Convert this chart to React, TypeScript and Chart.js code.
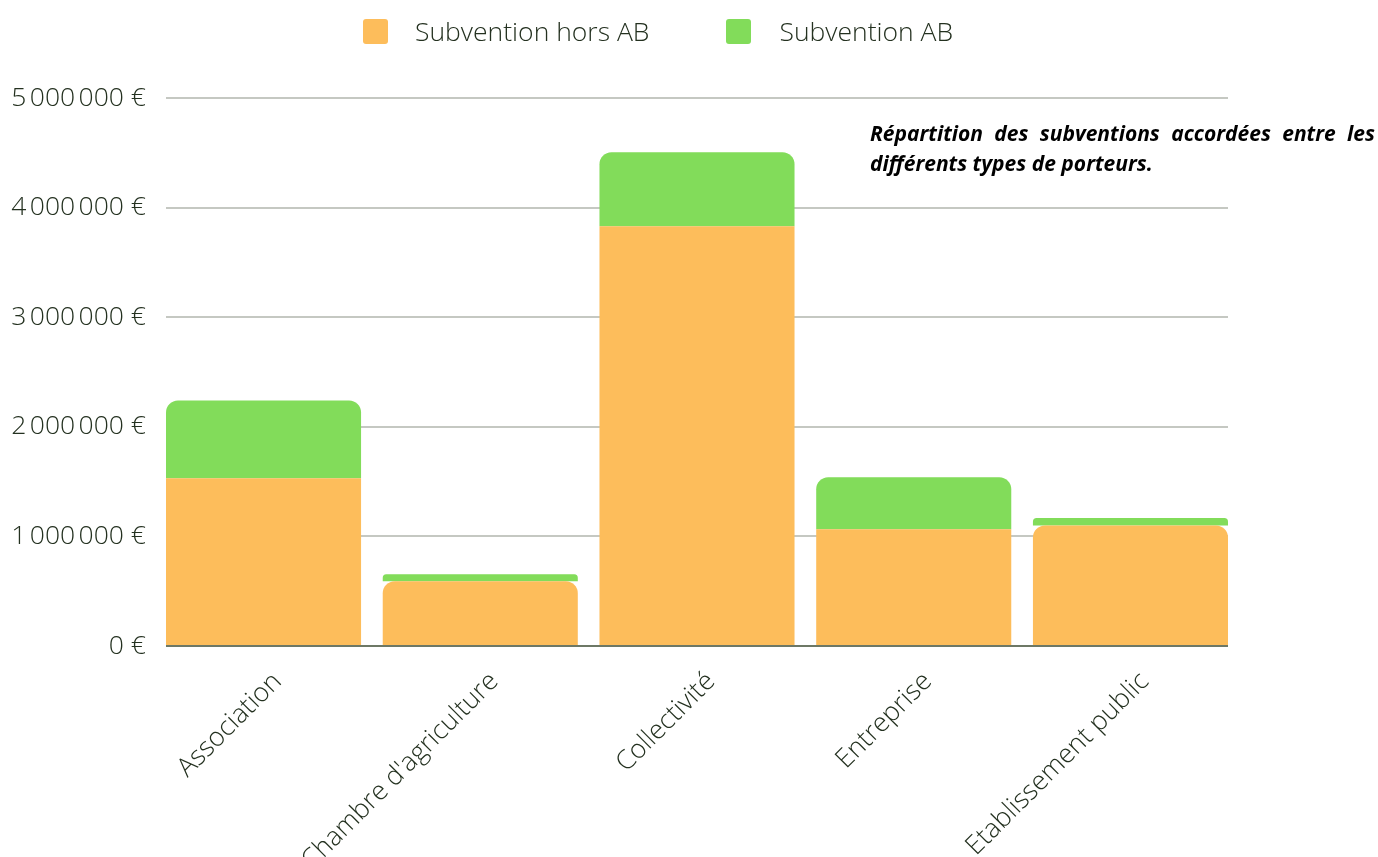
import React, { useEffect, useRef } from "react";
import { Chart, registerables } from "chart.js";

Chart.register(...registerables);

const categories = ["Association", "Chambre d'agriculture", "Collectivité", "Entreprise", "Etablissement public"];
const horsAB = [1530000, 590000, 3830000, 1065000, 1100000];
const ab = [710000, 65000, 675000, 475000, 68000];
const seriesNames = ["Subvention hors AB", "Subvention AB"];
const yTicks = [0, 1000000, 2000000, 3000000, 4000000, 5000000];

const ORANGE = "#fdbd5b";
const GREEN = "#82dc5a";
const TEXT = "#243120";
const FONT = "'Open Sans', sans-serif";

function fmtEuro(v: number): string {
  const s = Math.round(v).toString().replace(/\B(?=(\d{3})+(?!\d))/g, "\u202F");
  return s + "\u00A0€";
}

export default function App() {
  const ref = useRef<HTMLCanvasElement | null>(null);
  useEffect(() => {
    if (!ref.current) return;
    const chart = new Chart(ref.current, {
      type: "bar",
      data: {
        datasets: [
          {
            label: seriesNames[0],
            data: horsAB.map((v, i) => ({ x: i, y: v })),
            backgroundColor: ORANGE,
            borderWidth: 0,
            borderSkipped: "start",
            borderRadius: (ctx: any) => {
              const i = ctx.dataIndex;
              const small = ab[i] !== undefined && ab[i] < 150000;
              return small ? { topLeft: 12, topRight: 12, bottomLeft: 0, bottomRight: 0 } : 0;
            },
            barPercentage: 0.9,
            categoryPercentage: 1,
          } as any,
          {
            label: seriesNames[1],
            data: ab.map((v, i) => ({ x: i, y: v })),
            backgroundColor: GREEN,
            borderWidth: 0,
            borderSkipped: "start",
            borderRadius: { topLeft: 12, topRight: 12, bottomLeft: 0, bottomRight: 0 },
            barPercentage: 0.9,
            categoryPercentage: 1,
          } as any,
        ],
      },
      options: {
        animation: false,
        responsive: true,
        maintainAspectRatio: false,
        layout: { padding: { top: 98, right: 150, left: 0, bottom: 0 } },
        plugins: {
          legend: { display: false },
          tooltip: { enabled: false },
        },
        scales: {
          x: {
            type: "linear",
            stacked: true,
            min: -0.45,
            max: categories.length - 0.55,
            offset: false,
            grid: { display: false },
            border: { display: false },
            afterFit: (s: any) => {
              s.height = 900 - 646;
            },
            afterBuildTicks: (s: any) => {
              s.ticks = categories.map((_, i) => ({ value: i }));
            },
            ticks: {
              autoSkip: false,
              maxRotation: 45,
              minRotation: 45,
              padding: 12,
              labelOffset: 14,
              color: TEXT,
              font: { family: FONT, size: 26.5, weight: "300" as any },
              callback: (v: any) => categories[Math.round(Number(v))] ?? "",
            },
          } as any,
          y: {
            stacked: true,
            min: 0,
            max: 5000000,
            afterFit: (s: any) => {
              s.width = 166;
            },
            afterBuildTicks: (s: any) => {
              s.ticks = yTicks.map((v) => ({ value: v }));
            },
            border: { display: false },
            grid: {
              drawTicks: false,
              lineWidth: 2,
              color: (ctx: any) => (ctx.tick && ctx.tick.value === 0 ? "#6d7866" : "#c5c8c2"),
            },
            ticks: {
              padding: 20,
              color: TEXT,
              font: { family: FONT, size: 26.5, weight: "300" as any },
              callback: (v: any) => fmtEuro(Number(v)),
            },
          } as any,
        },
      },
    });
    return () => chart.destroy();
  }, []);

  return (
    <div style={{ position: "absolute", left: 0, top: 0, width: 1378, height: 857, overflow: "hidden", background: "#fff" }}>
      <div style={{ position: "absolute", left: 0, top: 0, width: 1378, height: 900 }}>
        <canvas ref={ref} />
      </div>
      <div
        style={{
          position: "absolute",
          top: 13,
          left: 363,
          display: "flex",
          alignItems: "center",
          fontFamily: FONT,
          fontWeight: 300,
          fontSize: 26.5,
          color: TEXT,
          whiteSpace: "nowrap",
        }}
      >
        <span style={{ display: "inline-block", width: 25, height: 25, borderRadius: 3, background: ORANGE }} />
        <span style={{ marginLeft: 27 }}>{seriesNames[0]}</span>
        <span style={{ display: "inline-block", width: 25, height: 25, borderRadius: 3, background: GREEN, marginLeft: 77 }} />
        <span style={{ marginLeft: 28 }}>{seriesNames[1]}</span>
      </div>
      <div
        style={{
          position: "absolute",
          top: 118,
          left: 870,
          width: 505,
          textAlign: "justify",
          fontFamily: FONT,
          fontWeight: 700,
          fontStyle: "italic",
          fontSize: 21,
          lineHeight: "30px",
          color: "#000",
        }}
      >
        Répartition des subventions accordées entre les différents types de porteurs.
      </div>
    </div>
  );
}
